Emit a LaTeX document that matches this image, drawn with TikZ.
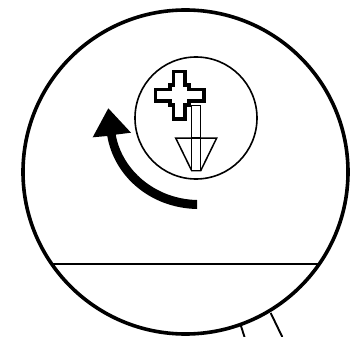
\documentclass[tikz,border=0pt]{standalone}
\begin{document}
\begin{tikzpicture}[x=1pt,y=-1pt,
  big/.style={draw=black,line width=3.6pt},
  thin/.style={draw=black,line width=1.6pt},
  crossline/.style={draw=black,line width=3.2pt,miter limit=4},
  arrowline/.style={draw=black,line width=1.5pt,fill=white},
  plain/.style={draw=black,line width=1.9pt}]
\useasboundingbox (0,0) rectangle (351,337);
\clip (0,0) rectangle (351,337);
\fill[white] (0,0) rectangle (351,337);
% large circle
\draw[big] (185.5,172) ellipse [x radius=162.5,y radius=162];
\draw[plain] (53,264) -- (320,264);
\draw[plain] (241,326) -- (244.5,337);
\draw[plain] (270.7,313) -- (282.3,337);
% small circle
\draw[thin] (196,118) circle [radius=61];
% arrow symbol
\draw[arrowline] (175.7,138) -- (216.7,138) -- (200.7,170.7) -- (191.7,170.7) -- cycle;
\draw[arrowline] (191.7,105.7) rectangle (200.7,170.7);
\draw[draw=black,line width=1.5pt] (191.7,138) -- (200.7,138);
% cross
\draw[crossline,fill=white] (173.7,71.7) -- (185,71.7) -- (185,85) -- (189,85) -- (189,89.3)
  -- (204,89.3) -- (204,101) -- (189,101) -- (189,105) -- (185,105) -- (185,119)
  -- (173.7,119) -- (173.7,105) -- (170,105) -- (170,101) -- (155.7,101) -- (155.7,89.3)
  -- (170,89.3) -- (170,85) -- (173.7,85) -- cycle;
% thick curved arrow
\fill[black] (108.3,108.3) -- (131,132.7) -- (115.7,134.6)
  .. controls (122,170) and (155,199) .. (197,200)
  -- (197,209)
  .. controls (150,208) and (114,176) .. (107.3,136)
  -- (92.7,137.3) -- cycle;
\end{tikzpicture}
\end{document}
